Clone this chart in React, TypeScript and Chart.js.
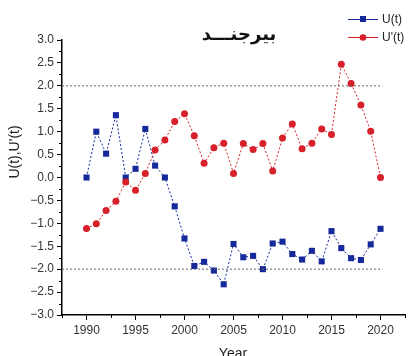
import React, { useEffect, useRef } from 'react';
import { Chart, registerables } from 'chart.js';

Chart.register(...registerables);

const years = [1990, 1991, 1992, 1993, 1994, 1995, 1996, 1997, 1998, 1999, 2000, 2001, 2002, 2003, 2004, 2005, 2006, 2007, 2008, 2009, 2010, 2011, 2012, 2013, 2014, 2015, 2016, 2017, 2018, 2019, 2020];
const uValues = [0.0, 1.0, 0.52, 1.36, 0.0, 0.19, 1.06, 0.26, 0.0, -0.63, -1.33, -1.93, -1.84, -2.03, -2.33, -1.45, -1.74, -1.71, -2.0, -1.44, -1.4, -1.67, -1.79, -1.6, -1.83, -1.17, -1.54, -1.76, -1.8, -1.46, -1.12];
const uPrimeValues = [-1.11, -1.01, -0.72, -0.52, -0.1, -0.28, 0.09, 0.6, 0.82, 1.22, 1.39, 0.91, 0.31, 0.65, 0.75, 0.09, 0.74, 0.61, 0.74, 0.14, 0.86, 1.17, 0.63, 0.75, 1.06, 0.94, 2.47, 2.05, 1.58, 1.01, 0.0];
const thresholdValues = [2, -2];
const thresholdYears = [1987.5, 2020.2];
const xTickValues = [1990, 1995, 2000, 2005, 2010, 2015, 2020];
const yTickValues = [-3, -2.5, -2, -1.5, -1, -0.5, 0, 0.5, 1, 1.5, 2, 2.5, 3];
const xRange = [1987.5, 2022.5];
const yRange = [-3, 3];
const titleText = 'بیرجنـــد';
const seriesLabels = ['U(t)', "U'(t)"];
const xAxisTitle = 'Year';
const yAxisTitle = "U(t),U'(t)";

const BLUE = '#16299a';
const RED = '#d7202a';
const FONT = '"Liberation Sans", Arial, sans-serif';

export default function App() {
  const canvasRef = useRef<HTMLCanvasElement | null>(null);

  useEffect(() => {
    const canvas = canvasRef.current;
    if (!canvas) return;

    const decorPlugin = {
      id: 'decor',
      afterDraw(chart: any) {
        const ctx = chart.ctx;
        const xs = chart.scales.x;
        const ys = chart.scales.y;
        const area = chart.chartArea;
        ctx.save();
        // minor ticks
        ctx.strokeStyle = '#000';
        ctx.lineWidth = 1;
        ctx.beginPath();
        for (let v = xRange[0]; v <= xRange[1] + 1e-6; v += 2.5) {
          if (Math.abs(v % 5) < 1e-6) continue;
          const px = Math.round(xs.getPixelForValue(v)) + 0.5;
          ctx.moveTo(px, area.bottom);
          ctx.lineTo(px, area.bottom + 3);
        }
        for (let v = yRange[0]; v <= yRange[1] + 1e-6; v += 0.25) {
          if (Math.abs(v * 2 - Math.round(v * 2)) < 1e-6) continue;
          const py = Math.round(ys.getPixelForValue(v)) + 0.5;
          ctx.moveTo(area.left, py);
          ctx.lineTo(area.left - 3, py);
        }
        ctx.stroke();

        // title
        ctx.fillStyle = '#111';
        ctx.font = `bold 18px "DejaVu Sans", sans-serif`;
        ctx.textAlign = 'center';
        ctx.textBaseline = 'middle';
        ctx.fillText(titleText, 239, 35);

        // axis titles
        ctx.fillStyle = '#222';
        ctx.font = `14px ${FONT}`;
        ctx.textBaseline = 'alphabetic';
        ctx.fillText(xAxisTitle, 233, 358);
        ctx.save();
        ctx.translate(15, 152);
        ctx.rotate(-Math.PI / 2);
        ctx.font = `14px ${FONT}`;
        ctx.textBaseline = 'middle';
        ctx.fillText(yAxisTitle, 0, 0);
        ctx.restore();

        // legend
        const colors = [BLUE, RED];
        const rows = [19, 37];
        rows.forEach((ly, i) => {
          ctx.strokeStyle = colors[i];
          ctx.lineWidth = 1;
          ctx.beginPath();
          ctx.moveTo(348, ly + 0.5);
          ctx.lineTo(378, ly + 0.5);
          ctx.stroke();
          ctx.fillStyle = colors[i];
          if (i === 0) {
            ctx.fillRect(360, ly - 3, 6, 6);
          } else {
            ctx.beginPath();
            ctx.arc(363, ly + 0.5, 3.3, 0, Math.PI * 2);
            ctx.fill();
          }
          ctx.fillStyle = '#222';
          ctx.font = `12px ${FONT}`;
          ctx.textAlign = 'left';
          ctx.textBaseline = 'middle';
          ctx.fillText(seriesLabels[i], 382, ly + 1);
        });
        ctx.restore();
      },
    };

    const chart = new Chart(canvas, {
      type: 'line',
      data: {
        datasets: [
          ...thresholdValues.map((t) => ({
            label: 'threshold',
            data: thresholdYears.map((yr) => ({ x: yr, y: t })),
            borderColor: '#666',
            borderWidth: 1,
            borderDash: [2, 2],
            pointRadius: 0,
            fill: false,
          })),
          {
            label: seriesLabels[1],
            data: years.map((yr, i) => ({ x: yr, y: uPrimeValues[i] })),
            borderColor: RED,
            backgroundColor: RED,
            borderWidth: 1,
            borderDash: [2, 2],
            pointStyle: 'circle',
            pointRadius: 3.5,
            pointBorderWidth: 0,
            pointBackgroundColor: RED,
            tension: 0,
            fill: false,
          },
          {
            label: seriesLabels[0],
            data: years.map((yr, i) => ({ x: yr, y: uValues[i] })),
            borderColor: BLUE,
            backgroundColor: BLUE,
            borderWidth: 1,
            borderDash: [2, 2],
            pointStyle: 'rect',
            pointRadius: 4.3,
            pointBorderWidth: 0,
            pointBackgroundColor: BLUE,
            tension: 0,
            fill: false,
          },
        ],
      },
      options: {
        responsive: false,
        animation: false,
        events: [],
        layout: { padding: { top: 40, right: 6, left: 0, bottom: 0 } },
        plugins: {
          legend: { display: false },
          title: { display: false },
          tooltip: { enabled: false },
        },
        scales: {
          x: {
            type: 'linear',
            min: xRange[0],
            max: xRange[1],
            afterBuildTicks: (scale: any) => {
              scale.ticks = xTickValues.map((v) => ({ value: v }));
            },
            afterFit: (scale: any) => {
              scale.height = 41;
            },
            ticks: {
              autoSkip: false,
              maxRotation: 0,
              padding: 3,
              color: '#333',
              font: { family: FONT, size: 12 },
              callback: (v: any) => String(v),
            },
            grid: {
              drawOnChartArea: false,
              drawTicks: true,
              tickLength: 5,
              color: '#000',
            },
            border: { display: true, color: '#000', width: 1.5 },
          },
          y: {
            type: 'linear',
            min: yRange[0],
            max: yRange[1],
            afterBuildTicks: (scale: any) => {
              scale.ticks = yTickValues.map((v) => ({ value: v }));
            },
            afterFit: (scale: any) => {
              scale.width = 62;
            },
            ticks: {
              autoSkip: false,
              padding: 3,
              color: '#333',
              font: { family: FONT, size: 12 },
              callback: (v: any) => {
                const n = Number(v);
                const s = Math.abs(n).toFixed(1);
                return n < 0 ? '\u2212' + s : s;
              },
            },
            grid: {
              drawOnChartArea: false,
              drawTicks: true,
              tickLength: 5,
              color: '#000',
            },
            border: { display: true, color: '#000', width: 1.5 },
          },
        },
      },
      plugins: [decorPlugin],
    } as any);

    return () => {
      chart.destroy();
    };
  }, []);

  return (
    <div style={{ position: 'absolute', left: 0, top: 0, width: 411, height: 356, background: '#fff' }}>
      <canvas ref={canvasRef} width={411} height={356} style={{ width: 411, height: 356, display: 'block' }} />
    </div>
  );
}
